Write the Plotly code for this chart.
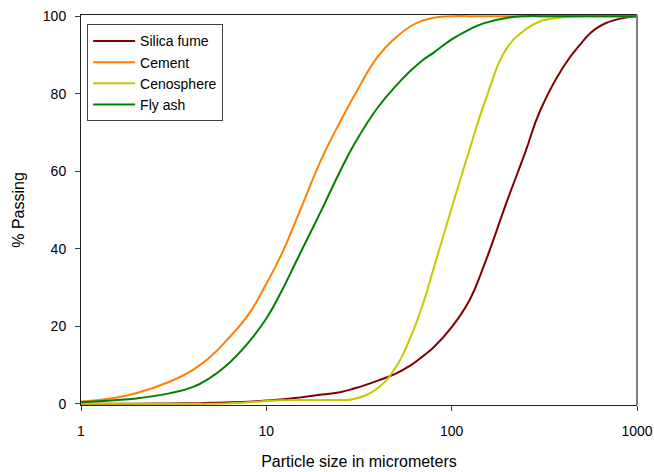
import plotly.graph_objects as go

# Particle size (micrometers)
size = [1, 1.5, 2, 3, 4, 5, 6, 8, 10, 12, 15, 20, 25, 30, 40, 50, 60, 70, 80,
        100, 125, 150, 200, 250, 300, 400, 500, 600, 800, 1000]

silica_fume = [0, 0, 0.05, 0.1, 0.15, 0.25, 0.35, 0.55, 0.85, 1.1, 1.6, 2.4, 3.0, 4.0,
               6.0, 7.8, 9.9, 12.3, 14.6, 19.8, 26.8, 35.9, 52.6, 65.0, 75.6, 86.9,
               93.0, 96.8, 99.3, 100]
cement = [0.6, 1.5, 2.8, 5.7, 8.7, 12.2, 16.0, 23.0, 31.0, 38.3, 49.2, 63.5, 72.7, 79.7,
          89.6, 94.5, 97.4, 98.9, 99.6, 100, 100, 100, 100, 100, 100, 100, 100, 100, 100, 100]
cenosphere = [0, 0, 0, 0, 0, 0, 0.1, 0.4, 0.7, 0.9, 1.0, 1.0, 1.0, 1.3, 4.1, 9.5, 17.2,
              25.8, 35.0, 50.5, 65.7, 77.5, 92.0, 96.5, 98.7, 99.7, 100, 100, 100, 100]
fly_ash = [0.4, 0.9, 1.4, 2.7, 4.3, 6.8, 9.6, 15.8, 22.0, 28.8, 38.2, 50.3, 60.0, 67.2,
           76.5, 82.0, 85.9, 88.7, 90.6, 94.0, 96.6, 98.2, 99.6, 100, 100, 100, 100, 100, 100, 100]

series_names = ["Silica fume", "Cement", "Cenosphere", "Fly ash"]
series_values = [silica_fume, cement, cenosphere, fly_ash]
series_colors = ["#800000", "#FF8000", "#C8C800", "#008000"]

x_tick_vals = [1, 10, 100, 1000]
x_tick_text = ["1", "10", "100", "1000"]
y_tick_vals = [0, 20, 40, 60, 80, 100]

FONT = "Arial, Liberation Sans, sans-serif"

fig = go.Figure()
for name, vals, col in zip(series_names, series_values, series_colors):
    fig.add_trace(go.Scatter(
        x=size, y=vals, mode="lines", name=name,
        line=dict(color=col, width=2, shape="spline", smoothing=1.3),
    ))

# gray right border of the plot frame
fig.add_shape(type="line", xref="paper", yref="paper", x0=1, x1=1, y0=0, y1=1,
              line=dict(color="#808080", width=2), layer="above")

fig.update_layout(
    width=654, height=472,
    margin=dict(l=81, r=17, t=15, b=67, autoexpand=False),
    paper_bgcolor="white", plot_bgcolor="white",
    font=dict(family=FONT, size=14, color="black"),
    showlegend=True,
    legend=dict(
        x=0.011, y=0.976, xanchor="left", yanchor="top",
        bordercolor="#404040", borderwidth=1, bgcolor="white",
        font=dict(family=FONT, size=14, color="black"),
        tracegroupgap=0, itemwidth=42, entrywidth=122,
    ),
    xaxis=dict(
        type="log", range=[0, 3], automargin=False,
        tickvals=x_tick_vals, ticktext=x_tick_text,
        ticks="outside", ticklen=5, tickcolor="#404040",
        showline=True, linecolor="#202020", linewidth=1, mirror=True,
        showgrid=False, zeroline=False,
        ticklabelstandoff=8,
        tickfont=dict(family=FONT, size=14),
        title=dict(text="Particle size in micrometers",
                   font=dict(family=FONT, size=16), standoff=18),
    ),
    yaxis=dict(
        range=[-0.3, 100.3], automargin=False,
        tickvals=y_tick_vals,
        ticks="outside", ticklen=5, tickcolor="#404040",
        showline=True, linecolor="#202020", linewidth=1, mirror=False,
        showgrid=False, zeroline=False,
        ticklabelstandoff=6,
        tickfont=dict(family=FONT, size=14),
        title=dict(text="% Passing", font=dict(family=FONT, size=16), standoff=14),
    ),
)

# remove the default 8px page margin so the 654x472 figure fills the window
fig.write_html(
    "out.html",
    config={"displayModeBar": False},
    post_script="document.body.style.margin='0';document.body.style.overflow='hidden';",
)
